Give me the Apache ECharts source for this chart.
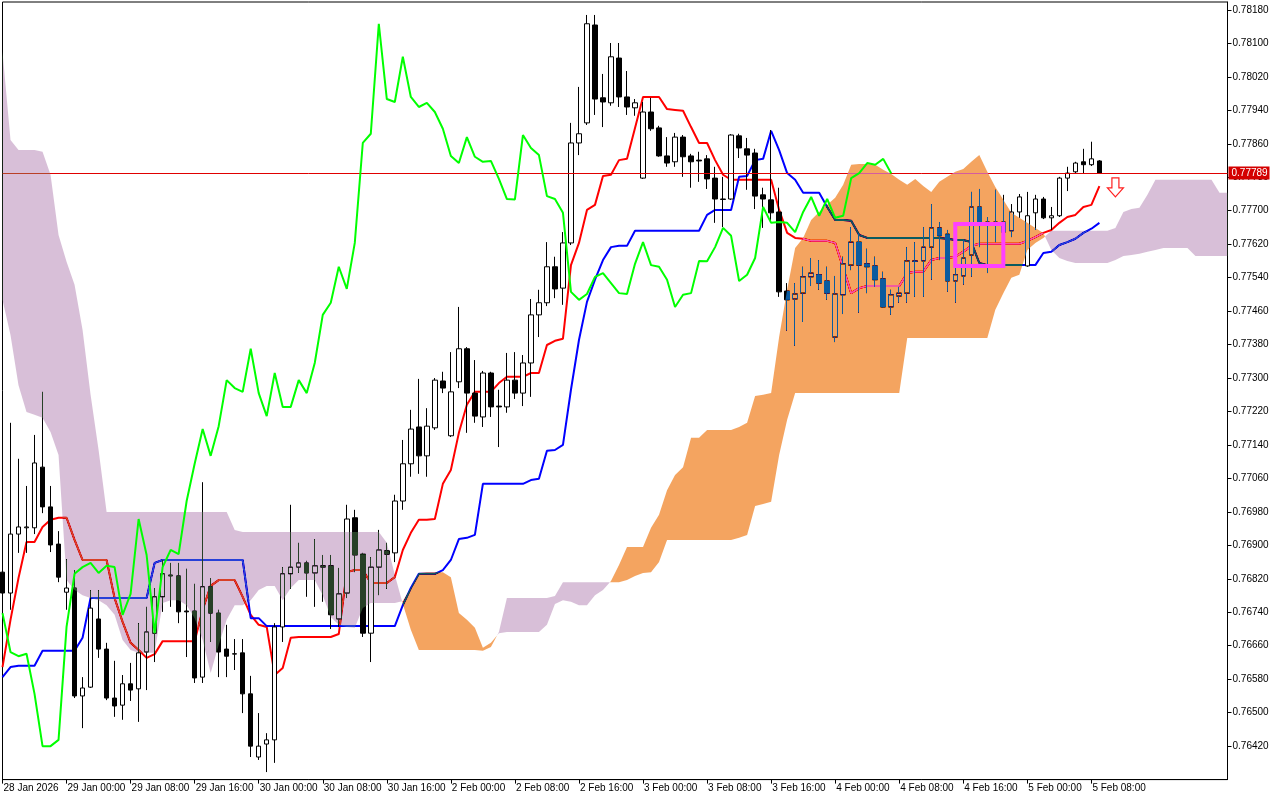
<!DOCTYPE html>
<html>
<head>
<meta charset="utf-8">
<script src="https://cdn.jsdelivr.net/npm/echarts@6/dist/echarts.min.js"></script>
<style>
html,body{margin:0;padding:0;background:#fff;}
#chart{width:1280px;height:800px;}
</style>
</head>
<body>
<div id="chart"></div>
<script>
// ---------- DATA (H1 bars) ----------
const opens = [0.76836,0.76786,0.76927,0.76942,0.76942,0.77087,0.76992,0.76903,0.76788,0.76798,
0.76540,0.76561,0.76724,0.76652,0.76535,0.76518,0.76569,0.76557,0.76645,0.76690,
0.76777,0.76829,0.76827,0.76743,0.76743,0.76585,0.76801,0.76738,0.76652,0.76640,
0.76643,0.76545,0.76394,0.76425,0.76435,0.76705,0.76832,0.76848,0.76858,0.76834,
0.76851,0.76851,0.76724,0.76786,0.76966,0.76879,0.76690,0.76848,0.76887,0.76882,
0.77006,0.77095,0.77183,0.77114,0.77181,0.77293,0.77162,0.77291,0.77370,0.77264,
0.77207,0.77312,0.77233,0.77231,0.77295,0.77264,0.77336,0.77451,0.77480,0.77566,
0.77515,0.77623,0.77862,0.77910,0.78144,0.77970,0.77958,0.78065,0.77972,0.77946,
0.77778,0.77936,0.77898,0.77831,0.77817,0.77876,0.77831,0.77821,0.77824,0.77778,
0.77728,0.77728,0.77879,0.77848,0.77838,0.77738,0.77726,0.77697,0.77508,0.77489,
0.77503,0.77542,0.77547,0.77532,0.77398,0.77499,0.77570,0.77625,0.77573,0.77568,
0.77537,0.77470,0.77496,0.77503,0.77580,0.77580,0.77613,0.77659,0.77644,0.77532,
0.77544,0.77594,0.77709,0.77668,0.77673,0.77673,0.77652,0.77697,0.77568,0.77695,
0.77728,0.77683,0.77688,0.77778,0.77793,0.77817,0.77810,0.77819];
const closes = [0.76786,0.76927,0.76944,0.76944,0.77097,0.76992,0.76901,0.76824,0.76798,0.76540,
0.76559,0.76750,0.76652,0.76535,0.76516,0.76569,0.76554,0.76643,0.76693,0.76777,
0.76832,0.76827,0.76741,0.76741,0.76583,0.76801,0.76738,0.76645,0.76635,0.76641,
0.76545,0.76420,0.76420,0.76435,0.76705,0.76832,0.76848,0.76858,0.76834,0.76851,
0.76848,0.76734,0.76784,0.76963,0.76877,0.76690,0.76848,0.76889,0.76879,0.77006,
0.77095,0.77178,0.77114,0.77185,0.77295,0.77276,0.77267,0.77370,0.77264,0.77209,
0.77312,0.77231,0.77231,0.77295,0.77264,0.77336,0.77451,0.77480,0.77566,0.77513,
0.77623,0.77862,0.77884,0.78147,0.77967,0.77960,0.78068,0.77972,0.77948,0.77958,
0.77936,0.77896,0.77831,0.77814,0.77876,0.77829,0.77817,0.77819,0.77776,0.77728,
0.77727,0.77881,0.77850,0.77833,0.77735,0.77728,0.77695,0.77506,0.77487,0.77501,
0.77542,0.77551,0.77527,0.77503,0.77501,0.77573,0.77625,0.77570,0.77566,0.77535,
0.77470,0.77499,0.77503,0.77580,0.77579,0.77613,0.77659,0.77640,0.77532,0.77547,
0.77587,0.77709,0.77671,0.77673,0.77671,0.77649,0.77697,0.77733,0.77688,0.77728,
0.77683,0.77688,0.77778,0.77790,0.77814,0.77810,0.77824,0.77789];
const lows = [0.76769,0.76746,0.76882,0.76882,0.76927,0.76977,0.76884,0.76812,0.76746,0.76535,
0.76463,0.76559,0.76631,0.76530,0.76490,0.76483,0.76528,0.76478,0.76554,0.76621,
0.76741,0.76753,0.76714,0.76633,0.76571,0.76571,0.76669,0.76585,0.76585,0.76602,
0.76499,0.76394,0.76387,0.76358,0.76380,0.76669,0.76796,0.76834,0.76777,0.76753,
0.76765,0.76700,0.76705,0.76774,0.76836,0.76681,0.76621,0.76781,0.76796,0.76860,
0.76985,0.77064,0.77071,0.77064,0.77176,0.77264,0.77159,0.77276,0.77169,0.77193,
0.77183,0.77207,0.77135,0.77217,0.77250,0.77233,0.77255,0.77398,0.77472,0.77491,
0.77475,0.77618,0.77833,0.77905,0.77929,0.77900,0.77951,0.77948,0.77929,0.77927,
0.77776,0.77891,0.77829,0.77805,0.77805,0.77781,0.77755,0.77769,0.77752,0.77671,
0.77661,0.77726,0.77826,0.77750,0.77704,0.77659,0.77671,0.77494,0.77413,0.77377,
0.77434,0.77520,0.77511,0.77487,0.77386,0.77453,0.77558,0.77456,0.77503,0.77518,
0.77468,0.77451,0.77480,0.77480,0.77494,0.77494,0.77535,0.77582,0.77506,0.77480,
0.77523,0.77542,0.77613,0.77551,0.77625,0.77606,0.77637,0.77683,0.77566,0.77654,
0.77680,0.77654,0.77685,0.77747,0.77790,0.77790,0.77807,0.77788];
const highs = [0.76865,0.77193,0.77107,0.77042,0.77164,0.77267,0.77042,0.76934,0.76867,0.76841,
0.76585,0.76793,0.76793,0.76667,0.76624,0.76590,0.76619,0.76714,0.76753,0.76798,
0.76865,0.76858,0.76858,0.76844,0.76808,0.77051,0.76822,0.76746,0.76710,0.76676,
0.76676,0.76588,0.76499,0.76451,0.76714,0.76848,0.76997,0.76906,0.76863,0.76915,
0.76877,0.76877,0.76846,0.76997,0.76985,0.76882,0.76872,0.76937,0.76906,0.77021,
0.77152,0.77224,0.77298,0.77228,0.77300,0.77315,0.77362,0.77470,0.77374,0.77343,
0.77317,0.77315,0.77272,0.77360,0.77362,0.77355,0.77489,0.77511,0.77625,0.77590,
0.77649,0.77910,0.77996,0.78168,0.78168,0.78027,0.78101,0.78101,0.78034,0.77967,
0.77960,0.77970,0.77903,0.77876,0.77886,0.77881,0.77836,0.77841,0.77833,0.77805,
0.77781,0.77883,0.77884,0.77874,0.77848,0.77755,0.77893,0.77755,0.77527,0.77527,
0.77566,0.77587,0.77582,0.77566,0.77544,0.77590,0.77661,0.77647,0.77609,0.77590,
0.77554,0.77511,0.77518,0.77613,0.77625,0.77661,0.77716,0.77673,0.77654,0.77635,
0.77630,0.77745,0.77752,0.77685,0.77750,0.77738,0.77716,0.77740,0.77745,0.77738,
0.77733,0.77709,0.77781,0.77805,0.77817,0.77848,0.77865,0.77821];

// Ichimoku lines
const tenkan = [0.76609,0.76722,0.76822,0.76908,0.76908,0.76944,0.76961,0.76966,0.76966,0.76913,
0.76865,0.76865,0.76865,0.76865,0.76774,0.76717,0.76667,0.76650,0.76631,0.76640,
0.76671,0.76671,0.76671,0.76671,0.76671,0.76746,0.76803,0.76817,0.76817,0.76817,
0.76777,0.76734,0.76710,0.76705,0.76590,0.76607,0.76679,0.76681,0.76681,0.76681,
0.76681,0.76681,0.76688,0.76836,0.76841,0.76841,0.76810,0.76810,0.76810,0.76824,
0.76889,0.76930,0.76961,0.76961,0.76963,0.77047,0.77080,0.77169,0.77236,0.77267,
0.77267,0.77267,0.77288,0.77303,0.77303,0.77303,0.77312,0.77312,0.77379,0.77389,
0.77394,0.77570,0.77623,0.77702,0.77714,0.77783,0.77786,0.77821,0.77824,0.77898,
0.77972,0.77972,0.77972,0.77943,0.77941,0.77939,0.77900,0.77862,0.77862,0.77821,
0.77786,0.77774,0.77774,0.77774,0.77774,0.77774,0.77774,0.77702,0.77647,0.77635,
0.77633,0.77628,0.77628,0.77628,0.77623,0.77563,0.77503,0.77515,0.77520,0.77520,
0.77520,0.77520,0.77520,0.77551,0.77554,0.77554,0.77582,0.77587,0.77587,0.77590,
0.77602,0.77616,0.77621,0.77621,0.77621,0.77621,0.77621,0.77621,0.77628,0.77637,
0.77647,0.77654,0.77671,0.77685,0.77690,0.77709,0.77714,0.77759];
const kijun = [0.76585,0.76609,0.76612,0.76612,0.76612,0.76648,0.76648,0.76648,0.76648,0.76648,
0.76679,0.76774,0.76774,0.76774,0.76774,0.76774,0.76774,0.76774,0.76774,0.76858,
0.76865,0.76865,0.76865,0.76865,0.76865,0.76865,0.76865,0.76865,0.76865,0.76865,
0.76865,0.76726,0.76726,0.76707,0.76707,0.76707,0.76707,0.76707,0.76707,0.76707,
0.76707,0.76707,0.76707,0.76707,0.76707,0.76707,0.76707,0.76707,0.76707,0.76707,
0.76757,0.76798,0.76832,0.76832,0.76832,0.76841,0.76865,0.76915,0.76918,0.76925,
0.77047,0.77047,0.77047,0.77047,0.77047,0.77047,0.77056,0.77059,0.77126,0.77128,
0.77140,0.77272,0.77391,0.77482,0.77535,0.77582,0.77613,0.77616,0.77616,0.77652,
0.77652,0.77652,0.77652,0.77652,0.77652,0.77652,0.77652,0.77652,0.77690,0.77702,
0.77702,0.77702,0.77781,0.77783,0.77821,0.77824,0.77891,0.77845,0.77790,0.77774,
0.77743,0.77743,0.77743,0.77709,0.77678,0.77678,0.77676,0.77642,0.77635,0.77635,
0.77635,0.77635,0.77635,0.77635,0.77635,0.77635,0.77635,0.77635,0.77633,0.77630,
0.77630,0.77625,0.77575,0.77570,0.77570,0.77570,0.77570,0.77570,0.77570,0.77570,
0.77599,0.77602,0.77618,0.77625,0.77633,0.77647,0.77657,0.77671];
const spanA = [0.77487,0.77403,0.77283,0.77219,0.77212,0.77205,0.77171,0.77116,0.76817,0.76793,
0.76781,0.76774,0.76769,0.76757,0.76734,0.76674,0.76650,0.76643,0.76643,0.76643,
0.76762,0.76769,0.76769,0.76757,0.76726,0.76674,0.76595,0.76662,0.76722,0.76757,
0.76757,0.76769,0.76793,0.76803,0.76803,0.76769,0.76798,0.76817,0.76817,0.76817,
0.76781,0.76729,0.76710,0.76705,0.76703,0.76750,0.76762,0.76762,0.76762,0.76762,
0.76767,0.76798,0.76834,0.76836,0.76836,0.76836,0.76824,0.76738,0.76722,0.76703,
0.76655,0.76667,0.76690,0.76693,0.76693,0.76693,0.76693,0.76693,0.76710,0.76760,
0.76769,0.76765,0.76757,0.76757,0.76781,0.76793,0.76815,0.76853,0.76896,0.76896,
0.76896,0.76942,0.76973,0.77032,0.77068,0.77087,0.77157,0.77157,0.77176,0.77176,
0.77176,0.77176,0.77183,0.77193,0.77257,0.77260,0.77264,0.77398,0.77511,0.77611,
0.77635,0.77678,0.77697,0.77714,0.77731,0.77762,0.77810,0.77812,0.77812,0.77810,
0.77798,0.77788,0.77774,0.77762,0.77776,0.77759,0.77745,0.77769,0.77781,0.77793,
0.77800,0.77817,0.77833,0.77793,0.77757,0.77726,0.77695,0.77683,0.77671,0.77659,
0.77647,0.77606,0.77587,0.77580,0.77575,0.77575,0.77575,0.77575,0.77575,0.77582,
0.77592,0.77594,0.77597,0.77602,0.77606,0.77611,0.77611,0.77611,0.77611,0.77592,
0.77592,0.77592,0.77592,0.77592];
const spanB = [0.78080,0.77869,0.77845,0.77845,0.77845,0.77841,0.77786,0.77642,0.77578,0.77523,
0.77415,0.77260,0.77128,0.76980,0.76980,0.76980,0.76980,0.76980,0.76980,0.76980,
0.76980,0.76980,0.76980,0.76980,0.76980,0.76980,0.76980,0.76980,0.76980,0.76937,
0.76932,0.76932,0.76932,0.76932,0.76932,0.76932,0.76932,0.76932,0.76932,0.76932,
0.76932,0.76932,0.76932,0.76932,0.76932,0.76932,0.76932,0.76932,0.76906,0.76829,
0.76760,0.76698,0.76650,0.76650,0.76650,0.76650,0.76650,0.76650,0.76650,0.76650,
0.76648,0.76657,0.76693,0.76774,0.76774,0.76774,0.76774,0.76774,0.76774,0.76779,
0.76812,0.76812,0.76812,0.76812,0.76812,0.76812,0.76812,0.76812,0.76817,0.76827,
0.76834,0.76836,0.76860,0.76913,0.76913,0.76913,0.76913,0.76913,0.76913,0.76913,
0.76913,0.76913,0.76918,0.76925,0.76994,0.76999,0.77004,0.77116,0.77200,0.77264,
0.77264,0.77264,0.77264,0.77264,0.77264,0.77264,0.77264,0.77264,0.77264,0.77264,
0.77264,0.77264,0.77264,0.77396,0.77396,0.77396,0.77396,0.77396,0.77396,0.77396,
0.77396,0.77396,0.77396,0.77396,0.77463,0.77503,0.77540,0.77547,0.77606,0.77623,
0.77635,0.77652,0.77652,0.77652,0.77652,0.77652,0.77652,0.77652,0.77652,0.77659,
0.77697,0.77704,0.77707,0.77738,0.77774,0.77774,0.77774,0.77774,0.77774,0.77774,
0.77774,0.77774,0.77743,0.77743];
const chikouShift = 26;              // lagging span = close plotted 26 bars back
const chikou = closes.slice(chikouShift);

const lastPrice = 0.77789;
// tick labels / time axis
const sessionDays = ['28 Jan','29 Jan','30 Jan','2 Feb','3 Feb','4 Feb','5 Feb','6 Feb'];
const firstBarHour = 16;
const firstTickLabel = '28 Jan 2026';
const priceTicks = {min: 0.76340, max: 0.78199, step: 0.00080};
// annotations
const boxFrom = 119, boxTo = 125, boxTop = 0.77668, boxBottom = 0.77568;
const arrowBar = 139, arrowPrice = 0.77756;

// ---------- BUILD ----------
const slotCount = spanA.length;
const lastBar = closes.length - 1;
const barTimes = [];
for (let d = 0; d < sessionDays.length && barTimes.length < slotCount; d++) {
  for (let h = (d === 0 ? firstBarHour : 0); h < 24 && barTimes.length < slotCount; h++) {
    barTimes.push(sessionDays[d] + ' ' + String(h).padStart(2, '0') + ':00');
  }
}
const ohlc = opens.map((o, i) => [o, closes[i], lows[i], highs[i]]);
const FONT = 'Liberation Sans';

function renderCloud(params, api) {
  const n = spanA.length;
  const pa = [], pb = [];
  for (let i = 0; i < n; i++) {
    pa.push(api.coord([i, spanA[i]]));
    pb.push(api.coord([i, spanB[i]]));
  }
  const regions = [];
  let cur = null;
  for (let i = 0; i < n; i++) {
    const d = spanA[i] - spanB[i];
    const s = d >= 0 ? 1 : -1;
    if (cur && s !== cur.sign) {
      const d0 = spanA[i - 1] - spanB[i - 1];
      const t = d0 / (d0 - d);
      const p = [pa[i - 1][0] + t * (pa[i][0] - pa[i - 1][0]), pa[i - 1][1] + t * (pa[i][1] - pa[i - 1][1])];
      cur.up.push(p); cur.dn.push(p);
      regions.push(cur);
      cur = {sign: s, up: [p], dn: [p]};
    }
    if (!cur) cur = {sign: s, up: [], dn: []};
    cur.up.push(pa[i]); cur.dn.push(pb[i]);
  }
  regions.push(cur);
  return {
    type: 'group',
    children: regions.map(r => ({
      type: 'polygon',
      shape: {points: r.up.concat(r.dn.slice().reverse())},
      // drawn with 'difference' so the cloud inverts what lies under it, like the terminal does
      style: {fill: r.sign > 0 ? '#0b5b9f' : '#274027', stroke: null}
    }))
  };
}

function renderPriceLine(params, api) {
  const cs = params.coordSys;
  const y = Math.round(api.coord([0, api.value(1)])[1]) + 0.5;
  return {
    type: 'group',
    children: [
      {type: 'line', shape: {x1: cs.x, y1: y, x2: cs.x + cs.width, y2: y},
        style: {stroke: '#e00000', lineWidth: 1}},
      {type: 'rect', shape: {x: cs.x + cs.width + 1, y: y - 7, width: 41, height: 13},
        style: {fill: '#d40000'}},
      {type: 'text', x: cs.x + cs.width + 4, y: y - 0.5,
        style: {text: api.value(1).toFixed(5), fill: '#ffffff', font: '10px "Liberation Sans"', verticalAlign: 'middle', align: 'left'}}
    ]
  };
}

const chart = echarts.init(document.getElementById('chart'), null, {renderer: 'canvas', width: 1280, height: 800});
chart.setOption({
  backgroundColor: '#ffffff',
  animation: false,
  grid: {left: 2.5, right: 52.5, top: 2, bottom: 20.4, show: true, borderColor: '#000', borderWidth: 1, backgroundColor: 'transparent'},
  xAxis: {
    type: 'category', data: barTimes, boundaryGap: false,
    axisLine: {show: true, lineStyle: {color: '#000', width: 1}},
    axisTick: {show: true, length: 4, interval: (i) => i % 8 === 0 && i <= lastBar, lineStyle: {color: '#000'}},
    axisLabel: {
      interval: (i) => i % 8 === 0 && i <= lastBar,
      formatter: (v, i) => (i === 0 ? firstTickLabel : v),
      align: 'left', color: '#000', fontFamily: FONT, fontSize: 10, margin: 4, padding: [0, 0, 0, 1]
    },
    splitLine: {show: false}
  },
  yAxis: {
    type: 'value', position: 'right', scale: true,
    min: priceTicks.min, max: priceTicks.max, interval: priceTicks.step,
    axisLine: {show: true, lineStyle: {color: '#000', width: 1}},
    axisTick: {show: true, length: 4, lineStyle: {color: '#000'}},
    axisLabel: {formatter: (v) => v.toFixed(5), color: '#000', fontFamily: FONT, fontSize: 10, margin: 5, showMinLabel: false, showMaxLabel: false},
    splitLine: {show: false}
  },
  series: [
    {
      type: 'candlestick', data: ohlc, barWidth: 5, z: 2, silent: true,
      itemStyle: {color: '#ffffff', color0: '#000000', borderColor: '#000000', borderColor0: '#000000', borderWidth: 1}
    },
    {type: 'line', data: tenkan, symbol: 'none', showSymbol: false, silent: true, z: 2,
      lineStyle: {color: '#ff0000', width: 2}},
    {type: 'line', data: kijun, symbol: 'none', showSymbol: false, silent: true, z: 2,
      lineStyle: {color: '#0000ff', width: 2}},
    {type: 'custom', renderItem: renderPriceLine, data: [[lastBar, lastPrice]], z: 5, silent: true, clip: false},
    {type: 'custom', renderItem: renderCloud, data: [[0, spanA[0]]], z: 6, silent: true, blendMode: 'difference'},
    {type: 'line', data: chikou, symbol: 'none', showSymbol: false, silent: true, z: 7,
      lineStyle: {color: '#00ff00', width: 2}},
    {type: 'custom', z: 8, silent: true, data: [[boxFrom, boxTop, boxTo, boxBottom]], encode: {x: [0, 2], y: [1, 3]},
      renderItem: (p, api) => {
        const a = api.coord([api.value(0), api.value(1)]);
        const b = api.coord([api.value(2), api.value(3)]);
        return {type: 'rect', shape: {x: a[0], y: a[1], width: b[0] - a[0], height: b[1] - a[1]},
          style: {fill: 'none', stroke: '#ff40ff', lineWidth: 4}};
      }},
    {type: 'custom', z: 8, silent: true, data: [[arrowBar, arrowPrice]],
      renderItem: (p, api) => {
        const c = api.coord([api.value(0), api.value(1)]);
        const pts = [[-3.5, -9.5], [3.5, -9.5], [3.5, 0.5], [8, 0.5], [0, 9.5], [-8, 0.5], [-3.5, 0.5]]
          .map(q => [c[0] + q[0], c[1] + q[1]]);
        return {type: 'polygon', shape: {points: pts}, style: {fill: '#ffffff', stroke: '#ff2020', lineWidth: 1.2}};
      }}
  ]
});
</script>
</body>
</html>
